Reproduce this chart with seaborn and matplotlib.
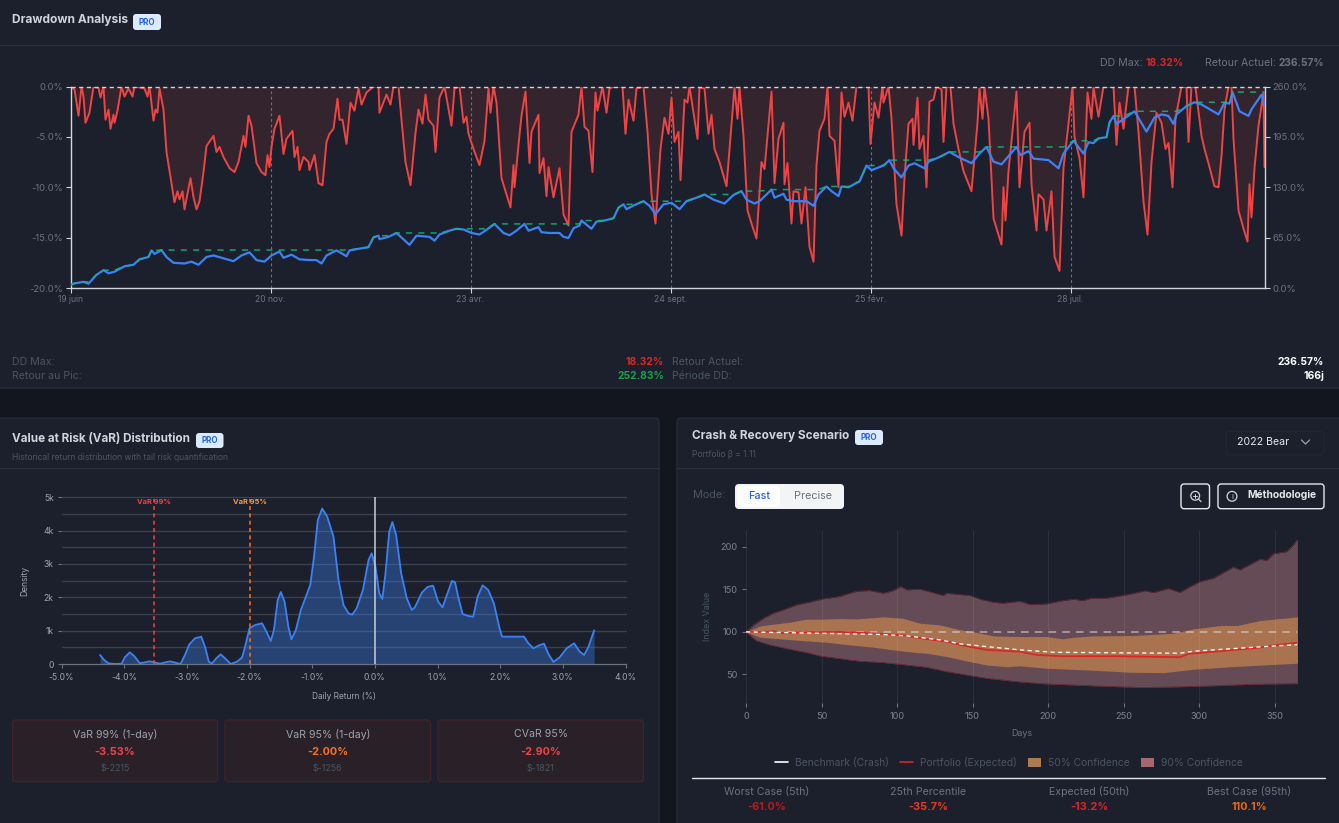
import numpy as np
import pandas as pd
import matplotlib
matplotlib.use("Agg")
import matplotlib.pyplot as plt
from matplotlib.patches import FancyBboxPatch, Rectangle, Circle, Patch
from matplotlib.lines import Line2D
import seaborn as sns

# ---------- drawdown data (observation index, %) ----------
dd_idx = [0,4,8,11,13,15,19,23,28,30,33,35,38,40,43,44,47,51,54,58,62,64,74,77,79,83,85,87,89,93,96,101,104,107,109,112,114,120,123,126,129,133,136,143,146,149,153,159,164,168,173,175,178,181,186,191,195,197,199,201,204,209,213,216,222,224,227,229,233,238,239,244,248,252,256,259,263,267,269,272,276,280,284,288,291,296,303,308,309,316,320,323,328,331,335,340,345,348,352,355,358,363,365,369,374,
381,384,389,393,396,398,403,409,414,418,420,423,426,431,436,440,443,444,448,451,455,459,461,468,469,473,476,478,483,489,493,498,501,508,511,514,518,522,525,527,532,536,539,544,552,555,558,563,566,573,577,581,585,590,594,598,601,604,608,610,614,617,619,627,629,634,638,641,644,649,656,664,667,669,673,677,681,686,691,694,701,704,708,713,714,717,721,723,728,731,735,739,743,746,749,754,757,759,764,768,771,774,778,782,786,798,800,804,808,812,813,818,821,826,831,
834,838,842,843,847,849,853,856,859,863,866,871,873,876,880,883,888,893,901,907,909,912,914,918,923,927,931,933,935,938,946,949,954,959,961,966,968,973,976,981,984,989,993,998,1002,1004,1009,1013,1017,1021,1023,1028,1033,1043,1046,1049,1053,1058,1064,1068,1073,1077,1081,1086,1091,1095,1098,1102,1105,1111,1116,1118,1121,1125,1131,1134,1139,1144,1148,1151,1154,1158,1161,1163,1168,1173,1177,1179,1181,1184,1188,1193,1194]
dd_val = [0,-.3,-2.9,0,-1,-3.6,-2.6,0,-.15,-1.1,0,-3.3,-2.3,-4.2,-2.8,-3.6,-2.4,0,-1,-.2,-1,0,-.2,-1,0,-3.4,-2.3,-2.6,-.2,-2.3,-6.5,-9.6,-11.5,-10.4,-11.2,-10.4,-12.2,-9.1,-11,-12.2,-11.4,-8.5,-5.9,-4.9,-6.5,-6,-7,-8.1,-8.5,-7.5,-4.9,-6,-2.9,-3.9,-7.6,-8.5,-8.8,-6.8,-8,-6,-4.2,-2.9,-6.7,-5.2,-4.4,-7,-6,-8.3,-7,-7.5,-8.3,-6.8,-9.6,-9.8,-5.5,-4.7,-4.2,-1.2,-3.3,-3.3,-5.7,-1.6,-2.4,-.2,-1.8,-.6,0,0,-2.6,-.8,-1.8,0,0,-3.3,-7.5,-9.8,-4.6,-2.3,-3.7,-.8,-3.3,-3.9,-6.5,-1.1,0,
-3.9,-.2,0,-3.6,-3,-4.7,-6.2,-7.8,-5.4,-.2,-2.6,0,-1.6,-9.1,-10.7,-12,-7.8,-10,-5.8,-2.9,-.5,-7.6,-4.5,-2.8,-8.6,-7.1,-10.9,-8,-11,-8.1,-12.7,-13.8,-4.5,-2.8,0,-4,-4.4,-8.5,-.6,-2.4,0,-2.6,-.2,0,0,-4.7,-1.3,-3.4,-.2,0,-4.5,-10.7,-13.6,-6.2,-3.1,-4.7,-1.1,-5.5,-4.5,-9.3,-1.3,-1.6,0,-5.2,-.1,-.2,-4.7,-2.8,-6.2,-7.5,-9.9,-.1,-3.2,0,-4.9,-12.3,-13.6,-15.1,-7.5,-8.2,-.5,-9.6,-5.2,-3.6,-9.7,-7.6,-13.6,-10.4,-10.5,-13.6,-10,-15.9,-17.4,-7.8,-4.4,-3.2,0,-4.9,-5.4,-10,-.6,-3,-1.6,-3.4,0,0,-5.7,-1.6,-3.1,0,-1.6,0,-3.2,-11.7,-14.8,
-9.1,-3.7,-3.2,-5.8,-1.1,-6.2,-4.9,-10,-1.5,-1.3,0,-.3,-5.5,0,-.1,-3.7,-6.2,-8.4,-10.4,-3.6,-.2,-3.2,0,-3.2,-13.1,-14.4,-15.7,-10,-13.3,-8.4,-.5,-10,-4.5,-3.6,-9.7,-14.3,-10.7,-11.2,-14.3,-10.4,-16.9,-18.3,-8.1,-3.7,0,-5,-7.1,-11,-.6,-3.2,-.1,-3,0,0,-5.8,-1.6,-4.2,0,0,-4.5,-11.4,-14.7,-7.5,-2.6,-3.6,-6.2,-5.6,-10,-3.2,0,-.1,-5.5,0,-.1,-4.9,-6.2,-8,-9.9,-10,-6.9,-2.3,0,0,-5.2,-12.3,-14.1,-15.4,-9.7,-13,-8.1,-3.9,-.6,-8]

# ---------- cumulative return data (observation index, %) ----------
ret_idx = [0,4,13,18,26,33,38,44,54,63,69,78,81,84,91,96,103,114,121,128,136,143,151,163,171,179,186,194,201,209,213,221,229,239,246,251,256,266,276,279,288,298,303,308,309,318,326,339,346,359,364,369,
379,386,393,401,409,416,424,433,439,446,454,458,468,471,479,489,493,498,503,509,511,521,526,534,543,548,553,556,564,573,579,585,593,601,609,616,626,634,643,654,663,671,676,684,689,701,704,713,716,723,736,743,748,756,761,768,771,778,789,796,801,813,819,
823,831,838,844,854,858,869,879,888,901,909,916,923,931,946,950,958,963,978,988,993,1003,1013,1018,1023,1028,1036,1039,1043,1046,1053,1064,1076,1084,1091,1098,1103,1106,1116,1124,1131,1148,1154,1159,1162,1169,1178,1181,1191,1194]
ret_val = [4,6,8,5.5,17,23,19,21,28,30,37,40,48.5,44,49,40,32.5,31.6,34,30,40,42,39,34.6,42,46,36,34,42,47,39,43,37,36,36,31.6,42,48.5,41,48.5,50.6,52.7,65.4,67.5,63,66,71,55.7,67.5,66,61,69,
74,76.4,75.5,71,69,75,82.7,71,68,74,82.7,74,78.5,72,71,71,66,64.6,77,80.6,87,76.4,85.7,87,90,103.8,108,101.7,107,112,106,95.4,108,110,101.7,112,116.5,120.7,114,109,120,125,114,109,112,127,116.5,121.6,114,112,112,106,120.7,131,125,118.6,131,130,137.6,158,152,158,165,
154.5,142.7,158,161,154.5,163,169,175.6,169,161,173.5,182,163,159.6,182,171.5,176.5,167,165,154.5,173.5,190,173.5,188,187,193,194.6,213.6,222,211.6,218,228,201.8,220,224,222,211.6,224,234.7,239.7,236.8,224,239,238,252.8,228,222,230.5,249.5,236.6]
date_ticks = ["19 juin","20 nov.","23 avr.","24 sept.","25 févr.","28 juil."]
dd_ticks = [0,-5,-10,-15,-20]
ret_ticks = [0,65,130,195,260]

# ---------- VaR distribution ----------
var_x = [-4.385,-4.32,-4.25,-4.15,-4.04,-3.99,-3.91,-3.84,-3.75,-3.59,-3.43,-3.27,-3.10,-3.03,-2.96,-2.87,-2.77,-2.71,-2.65,-2.60,-2.53,-2.46,-2.39,-2.3,-2.2,-2.12,-2.07,-2.0,-1.91,-1.80,-1.73,-1.66,-1.61,-1.55,-1.50,-1.44,-1.38,-1.33,-1.26,-1.18,-1.03,-.97,-.91,-.84,-.76,-.66,-.58,-.50,-.42,-.36,-.29,-.19,-.10,-.05,.01,.07,.12,.17,.23,.28,.34,.42,.51,.59,.64,.75,.84,.93,1.01,1.08,1.15,1.23,1.28,1.33,1.40,1.49,1.57,1.64,1.72,1.81,1.90,1.99,2.03,2.38,2.45,2.53,2.62,2.70,2.77,2.85,2.95,3.06,3.18,3.27,3.34,3.41,3.50]
var_y = [.27,.12,.02,0,.01,.2,.35,.24,.02,.08,.01,.08,0,.27,.59,.77,.82,.52,.07,.01,.17,.29,.17,0,.07,.19,.52,1.07,1.17,1.22,.97,.69,1.02,1.92,2.16,1.87,1.12,.74,1.02,1.62,2.37,3.22,4.32,4.66,4.42,3.82,2.52,1.77,1.52,1.48,1.67,2.22,3.12,3.32,2.92,2.12,1.95,2.72,3.97,4.26,3.87,2.72,1.97,1.62,1.7,2.14,2.31,2.35,1.87,1.7,2.07,2.49,2.45,2.02,1.5,1.44,1.42,2.02,2.36,2.22,1.82,1.07,.82,.82,.62,.47,.56,.61,.3,.06,.2,.47,.62,.37,.27,.52,1.01]
var_values = [-3.53,-2.00]

# ---------- crash scenario ----------
p95_d = [0,4.9,11.5,18,24.7,33.5,42,51,62,66.6,73.3,82,91,97.5,102.4,106.4,115,121.8,130.6,132.8,148.3,155,163.7,170.3,181.3,188,199,210,216.7,223,228.8,238.8,252,264,269.7,279.6,287.3,294,300.6,309.4,322.6,327,340.3,344.7,349,358,362.3,365]
p95_v = [100,108,116,122,126,131.8,135,138.9,141.6,144.4,147.9,148.7,145.5,148.7,153.4,149.5,150.3,147.1,142.8,145.5,142.8,138.5,134.9,133.8,136,132.2,133,136.9,138.5,136.9,139.7,139.7,143.6,148.3,146.3,151,146.3,153.4,159.3,163.2,176.2,173,185.6,184,191.9,194.6,202.5,209]
p75_d = [0,9.3,18,29,40,51,62,73.3,91,104,115,128.4,142,150,163.7,181.4,199,210,216.7,230,256.4,283,296,314,325,340,365]
p75_v = [100,107,109,111.4,115,115,115.7,115.3,117.7,116,110.2,108.2,102.4,100.4,95.3,94.5,94.5,91.8,93.7,95.3,95.7,98.4,103.5,107.5,107.5,113.3,117.7]
p25_d = [0,9.3,18,40,53.4,68.8,84.3,97.5,110.8,119.6,132.8,146,159.3,172.5,181.4,199,225.5,254,276.3,296,322.6,365]
p25_v = [100,93.7,92.5,89.4,87.8,84.7,82,78.8,76,74.9,71,65.8,61,59,60,57.2,55.2,52.5,52,56,59.2,63.1]
p05_d = [0,7,15.9,26.9,40,49,62,75.5,88.7,106.4,119.6,132.8,146,159.3,181.4,199,225.5,263,291.7,313.8,335.9,365]
p05_v = [100,89.4,84.7,80.4,75.7,71.7,68.6,65.4,64.3,61,58.4,53.3,49.3,45.4,41.1,38.8,36.8,34.4,35.6,36.8,38.4,39.1]
bench_d = [0,46.8,91,106.4,128.4,141.7,163.7,181.4,203.5,247.6,287.3,296,336,365]
bench_v = [100,98.4,96.9,95.3,90.6,85.9,81.9,78.8,76,75.3,74.9,77.2,81.9,85]
port_d = [0,13.7,18,24.7,40,62,91,104,117.4,132.8,143.9,159.3,181.4,192.4,210,247.6,287.3,292.8,318,336,358,365]
port_v = [100,100,100.8,98.4,99.6,100,97.6,96,92.1,88.6,83.9,78.8,76.8,72.9,71.3,71.3,70.2,74.1,78,80.8,85.9,87.4]
flat_d = [0,365]
flat_v = [100,100]

W, H = 1339, 823
CARD, PAGE = "#1b202c", "#13161e"
EDGE = "#2a303c"
GREY, DIM = "#6b7280", "#4b5563"
RED, BLUE, GREEN = "#ef4444", "#3b82f6", "#10b981"

sns.set_theme(style="dark")
plt.rcParams["font.family"] = ["Inter", "DejaVu Sans"]
plt.rcParams["axes.unicode_minus"] = False
fig = plt.figure(figsize=(W/100, H/100), dpi=100, facecolor=PAGE)

bg = fig.add_axes([0, 0, 1, 1], zorder=0)
bg.set_xlim(0, W); bg.set_ylim(H, 0); bg.axis("off")

def px_axes(l, t, r, b):
    a = fig.add_axes([l/W, 1-b/H, (r-l)/W, (b-t)/H], zorder=2)
    a.patch.set_alpha(0)
    return a

def box(x0, y0, x1, y1, fc, ec="none", lw=0.8, r=3, z=1):
    bg.add_patch(FancyBboxPatch((x0, y0), x1-x0, y1-y0, boxstyle=f"round,pad=0,rounding_size={r}",
                                fc=fc, ec=ec, lw=lw, zorder=z))

def txt(x, y, s, c=GREY, fs=7.8, ha="left", w="normal", **k):
    bg.text(x, y, s, color=c, fontsize=fs, ha=ha, va="center", fontweight=w, zorder=5, **k)

def badge(x0, x1, y0, y1):
    box(x0, y0, x1, y1, "#dbeafe", r=3, z=3)
    txt((x0+x1)/2, (y0+y1)/2+.3, "PRO", "#2563eb", 5.8, "center", "bold")

# cards
box(-5, -5, W+5, 388, CARD, EDGE)
box(-5, 418, 659, H+5, CARD, EDGE, r=4)
box(677, 418, W+5, H+5, CARD, EDGE, r=4)
for x0, x1, y in [(0, W, 45), (0, 659, 468), (677, W, 468)]:
    bg.plot([x0, x1], [y, y], color=EDGE, lw=0.8, zorder=2)

# ---------- Drawdown panel ----------
txt(12.5, 19.5, "Drawdown Analysis", "#d1d5db", 8.6, w="bold")
badge(133, 161, 14, 30)
txt(1100, 63, "DD Max:", GREY, 7.6)
txt(1146, 63, "18.32%", "#dc2626", 7.4, w="bold")
txt(1205, 63, "Retour Actuel:", GREY, 7.6)
txt(1324, 63, "236.57%", GREY, 7.3, ha="right", w="bold")
txt(12.5, 362, "DD Max:", DIM, 7.6); txt(12.5, 376, "Retour au Pic:", DIM, 7.6)
txt(664, 362, "18.32%", "#dc2626", 7.4, ha="right", w="bold")
txt(664, 376, "252.83%", "#16a34a", 7.4, ha="right", w="bold")
txt(672, 362, "Retour Actuel:", DIM, 7.6); txt(672, 376, "Période DD:", DIM, 7.6)
txt(1324, 362, "236.57%", "white", 7.4, ha="right", w="bold")
txt(1324, 376, "166j", "white", 7.4, ha="right", w="bold")

ax = px_axes(70.5, 86.5, 1265, 288)
ax.fill_between(dd_idx, dd_val, 0, color=RED, alpha=0.12, lw=0)
sns.lineplot(x=dd_idx, y=dd_val, ax=ax, color=RED, lw=1.4, estimator=None, sort=False, errorbar=None)
ax.set_xlim(0, 1194.5); ax.set_ylim(-20, 0)
tick_pos = list(range(0, 1200, 200))
ax.set_xticks(tick_pos); ax.set_xticklabels(date_ticks)
ax.set_yticks(dd_ticks); ax.set_yticklabels([f"{v:.1f}%" for v in dd_ticks])
ax.set_xlabel(""); ax.set_ylabel("")
for p in tick_pos:
    ax.axvline(p, color="#6b7280", lw=0.8, ls=(0, (2.5, 2.5)), zorder=1)
ax.axhline(0, color="#d1d5db", lw=1.0, ls=(0, (3, 2.5)), zorder=6, clip_on=False)
ax.tick_params(axis="both", length=3.5, width=0.8, color="#d1d5db", labelcolor=GREY, labelsize=6.8, pad=2, left=True, bottom=True)
ax.tick_params(axis="x", pad=1.5, labelsize=6.2)
for s in ["left", "bottom"]:
    ax.spines[s].set_color("#d1d5db"); ax.spines[s].set_linewidth(1.0)
ax.spines["top"].set_visible(False); ax.spines["right"].set_visible(False)

axr = ax.twinx()
axr.patch.set_alpha(0)
peak = np.maximum.accumulate(ret_val)
sns.lineplot(x=ret_idx, y=ret_val, ax=axr, color=BLUE, lw=1.6, estimator=None, sort=False, errorbar=None, zorder=3)
axr.plot(ret_idx, peak, color=GREEN, lw=1.1, ls=(0, (4, 4)), alpha=0.85, zorder=4)
axr.set_ylim(0, 260)
axr.set_yticks(ret_ticks); axr.set_yticklabels([f"{v:.1f}%" for v in ret_ticks])
axr.set_ylabel("")
axr.grid(False)
axr.tick_params(axis="y", right=True, length=3.5, width=0.8, color="#d1d5db", labelcolor=GREY, labelsize=6.8, pad=2)
axr.spines["right"].set_color("#d1d5db"); axr.spines["right"].set_linewidth(1.0)
for s in ["top", "left", "bottom"]:
    axr.spines[s].set_visible(False)

# ---------- VaR panel ----------
txt(12.5, 438.5, "Value at Risk (VaR) Distribution", "#d1d5db", 8.4, w="bold")
badge(196, 223.5, 433, 448)
txt(12.5, 457, "Historical return distribution with tail risk quantification", DIM, 6.1)

av = px_axes(61.5, 497.3, 625.5, 664)
av.fill_between(var_x, var_y, 0, color=BLUE, alpha=0.36, lw=0, zorder=2)
sns.lineplot(x=var_x, y=var_y, ax=av, color=BLUE, lw=1.3, estimator=None, sort=False, errorbar=None, zorder=3)
av.set_xlim(-5, 4); av.set_ylim(0, 5)
x_ticks = list(range(-5, 5))
av.set_xticks(x_ticks); av.set_xticklabels([f"{v:.1f}%" for v in x_ticks])
k_ticks = list(range(0, 6))
av.set_yticks(k_ticks); av.set_yticklabels(["0", "1k", "2k", "3k", "4k", "5k"])
for g in np.arange(0, 5.5, 0.5):
    av.axhline(g, color="#3a404c", lw=1.0, zorder=1, clip_on=False)
av.axvline(0, color="#c9ced6", lw=1.1, zorder=4)
av.axvline(var_values[0], ymax=0.99, color=RED, lw=1.1, ls=(0, (2.6, 2.2)), zorder=4)
av.axvline(var_values[1], ymax=0.99, color="#f97316", lw=1.1, ls=(0, (2.6, 2.2)), zorder=4)
av.text(var_values[0], 4.86, "VaR 99%", color=RED, fontsize=5.4, ha="center", va="center", fontweight="bold", zorder=5)
av.text(var_values[1], 4.86, "VaR 95%", color="#f59e42", fontsize=5.4, ha="center", va="center", fontweight="bold", zorder=5)
av.set_xlabel("Daily Return (%)", color="#9ca3af", fontsize=6.0, labelpad=7)
av.set_ylabel("Density", color="#9ca3af", fontsize=6.2, labelpad=10)
av.tick_params(axis="both", length=3, width=0.8, color="#6b7280", labelcolor="#9ca3af", labelsize=6.2, pad=2.5, left=True, bottom=True)
av.tick_params(axis="x", pad=3.5)
for s in av.spines.values():
    s.set_visible(False)
av.spines["bottom"].set_visible(True); av.spines["bottom"].set_color("#6b7280"); av.spines["bottom"].set_linewidth(0.8)

for (x0, x1, t, v, col, d) in [(12.6, 217.6, "VaR 99% (1-day)", "-3.53%", RED, "$-2215"),
                               (225, 430.5, "VaR 95% (1-day)", "-2.00%", "#f97316", "$-1256"),
                               (438, 643.5, "CVaR 95%", "-2.90%", RED, "$-1821")]:
    box(x0, 720, x1, 781.7, "#2a2028", "#43222a", 0.9, r=2.5)
    c = (x0+x1)/2
    txt(c, 734, t, "#9ca3af", 7.6, "center")
    txt(c, 752, v, col, 7.8, "center", "bold")
    txt(c, 768, d, DIM, 6.4, "center")

# ---------- Crash panel ----------
txt(692.5, 436, "Crash & Recovery Scenario", "#d1d5db", 8.5, w="bold")
badge(855, 883, 430, 445)
txt(692.5, 454, "Portfolio β = 1.11", DIM, 6.1)
box(1226, 431.7, 1324, 455, "none", "#222733", 0.8, r=3)
txt(1263, 442, "2022 Bear", "#e5e7eb", 7.6, "center")
bg.plot([1301.5, 1305.5, 1309.5], [440, 444, 440], color="#9ca3af", lw=0.9, zorder=5)
txt(692.5, 495, "Mode:", DIM, 7.8)
box(735, 484, 844, 509, "#f3f4f6", r=4)
box(737, 486, 780, 507, "white", r=3, z=2)
txt(758.7, 495.5, "Fast", "#2563eb", 7.8, "center", "medium")
txt(812.6, 495.5, "Precise", "#6b7280", 7.8, "center")
box(1181, 484, 1209.5, 508.7, "none", "#e5e7eb", 1.0, r=3)
bg.add_patch(Circle((1195.2, 495.8), 4.4, fc="none", ec="#d1d5db", lw=0.9, zorder=5))
bg.plot([1198.4, 1201], [499, 501.6], color="#d1d5db", lw=0.9, zorder=5)
bg.plot([1193, 1197.4], [495.8, 495.8], color="#d1d5db", lw=0.7, zorder=5)
bg.plot([1195.2, 1195.2], [493.6, 498], color="#d1d5db", lw=0.7, zorder=5)
box(1218, 484, 1324, 508.7, "none", "#e5e7eb", 1.0, r=3)
bg.add_patch(Circle((1232, 496.3), 4.9, fc="none", ec="#d1d5db", lw=0.9, zorder=5))
txt(1232, 496.5, "i", "#d1d5db", 5.6, "center")
txt(1282, 495, "Méthodologie", "#e5e7eb", 7.4, "center", "bold")

ac = px_axes(746, 530, 1297.4, 703.3)
C90, C50 = "#654b55", "#a9734f"
outer = sorted(set(p95_d) | set(p05_d))
inner = sorted(set(p75_d) | set(p25_d))
ac.fill_between(outer, np.interp(outer, p95_d, p95_v), np.interp(outer, p05_d, p05_v), color=C90, lw=0, zorder=1)
ac.fill_between(inner, np.interp(inner, p75_d, p75_v), np.interp(inner, p25_d, p25_v), color=C50, lw=0, zorder=2)
for d, v in [(p95_d, p95_v), (p05_d, p05_v)]:
    ac.plot(d, v, color="#6a2630", lw=0.6, zorder=3)
sns.lineplot(x=flat_d, y=flat_v, ax=ac, color="#e5e7eb", lw=1.1, alpha=0.6, ls=(0, (5, 4)), estimator=None, errorbar=None, zorder=4)
sns.lineplot(x=port_d, y=port_v, ax=ac, color="#dc2626", lw=1.3, estimator=None, errorbar=None, zorder=5)
sns.lineplot(x=bench_d, y=bench_v, ax=ac, color="#f3f4f6", lw=1.0, ls=(0, (3, 2.5)), estimator=None, errorbar=None, zorder=6)
ac.set_xlim(0, 365); ac.set_ylim(15.9, 220)
ac.set_xticks(range(0, 351, 50)); ac.set_yticks([50, 100, 150, 200])
ac.set_axisbelow(False)
ac.grid(axis="x", color="white", lw=0.8, alpha=0.07); ac.grid(axis="y", visible=False)
ac.set_xlabel("Days", color=GREY, fontsize=6.4, labelpad=6)
ac.set_ylabel("Index Value", color=DIM, fontsize=6.4, labelpad=6)
ac.tick_params(axis="both", length=3, width=0.8, color="#6b7280", labelcolor="#7b8290", labelsize=6.6, pad=3, left=True, bottom=True)
for s in ac.spines.values():
    s.set_visible(False)

handles = [Line2D([], [], color="white", lw=1.2), Line2D([], [], color="#dc2626", lw=1.2),
           Patch(fc="#aa7c50", ec="none"), Patch(fc="#a5686f", ec="none")]
labels = ["Benchmark (Crash)", "Portfolio (Expected)", "50% Confidence", "90% Confidence"]
leg = fig.legend(handles, labels, ncol=4, frameon=False, loc="center", fontsize=7.4,
                 bbox_to_anchor=(1009/W, 1-762.5/H), labelcolor=DIM, handlelength=1.25, handleheight=1.1,
                 handletextpad=0.7, columnspacing=1.1)

bg.plot([692.2, 1324.8], [778.3, 778.3], color="#e5e7eb", lw=1.0, zorder=3)
for c, a, b, col in [(767, "Worst Case (5th)", "-61.0%", "#b91c1c"), (928, "25th Percentile", "-35.7%", "#ea3a1e"),
                     (1089, "Expected (50th)", "-13.2%", "#dc2626"), (1249.5, "Best Case (95th)", "110.1%", "#ea6a12")]:
    txt(c, 791.7, a, GREY, 7.6, "center")
    txt(c, 807.3, b, col, 7.8, "center", "bold")

fig.savefig("out.png", dpi=100, facecolor=PAGE)
